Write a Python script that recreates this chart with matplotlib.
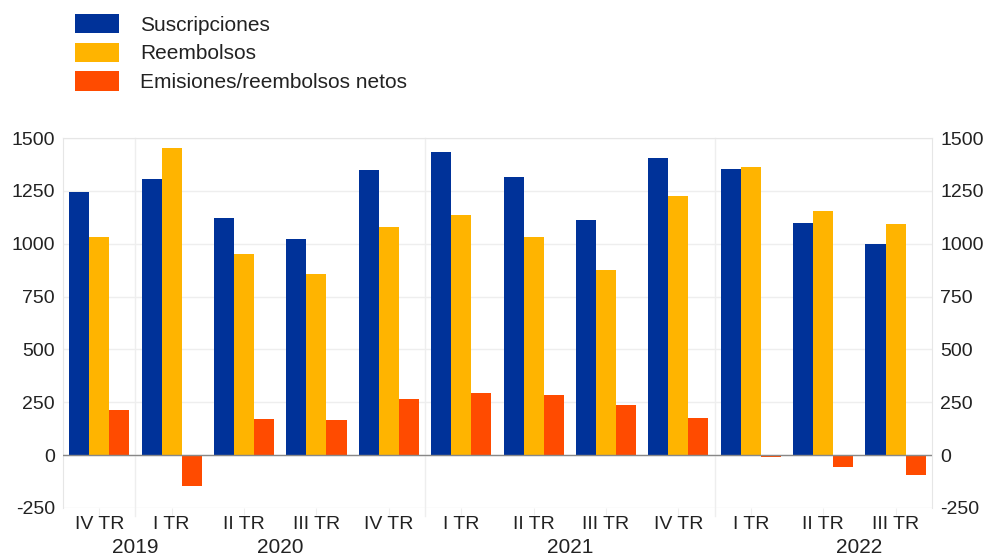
import matplotlib
matplotlib.use("Agg")
import matplotlib.pyplot as plt
import numpy as np
from matplotlib.patches import Patch

quarters = ["IV TR", "I TR", "II TR", "III TR", "IV TR", "I TR", "II TR", "III TR", "IV TR", "I TR", "II TR", "III TR"]
years = ["2019", "2020", "2021", "2022"]
year_pos = [0.5, 2.5, 6.5, 10.5]
year_breaks = [0.5, 4.5, 8.5]

suscripciones = [1245, 1306, 1122, 1022, 1349, 1434, 1316, 1112, 1406, 1354, 1098, 999]
reembolsos = [1032, 1453, 951, 857, 1079, 1136, 1032, 876, 1226, 1363, 1155, 1093]
netos = [213, -147, 170, 166, 265, 293, 284, 237, 175, -9, -57, -94]

series_names = ["Suscripciones", "Reembolsos", "Emisiones/reembolsos netos"]
colors = ["#003299", "#FFB400", "#FF4B00"]

plt.rcParams['font.family'] = ['Liberation Sans', 'DejaVu Sans']

fig = plt.figure(figsize=(9.86, 5.57), dpi=100)
ax = fig.add_axes([0.064, 0.088, 0.881, 0.664])

x = np.arange(len(quarters))
w = 0.277
for i, (vals, c) in enumerate(zip([suscripciones, reembolsos, netos], colors)):
    ax.bar(x + (i - 1) * w, vals, width=w, color=c, zorder=3)

ax.set_xlim(-0.5, len(quarters) - 0.5)
ax.set_ylim(-250, 1500)
ticks = [-250, 0, 250, 500, 750, 1000, 1250, 1500]
ax.set_yticks(ticks)
ax.set_yticklabels([str(t) for t in ticks], fontsize=14, color="#222222")
ax.tick_params(axis='y', length=0, pad=6, labelright=True, right=False)
ax.yaxis.grid(True, color="#eeeeee", linewidth=1, zorder=0)
ax.axhline(0, color="#888888", linewidth=1, zorder=4)

ax.set_xticks(x)
ax.set_xticklabels(quarters, fontsize=14, color="#222222")
ax.tick_params(axis='x', length=5, color="#eeeeee", pad=1)

for s in ["bottom"]:
    ax.spines[s].set_visible(False)
for s in ["left", "right", "top"]:
    ax.spines[s].set_color("#e6e6e6")

for b in year_breaks:
    ax.plot([b, b], [-290, 1500], color="#eeeeee", linewidth=1, zorder=1, clip_on=False)

for yr, p in zip(years, year_pos):
    ax.text(p, -0.106, yr, transform=ax.get_xaxis_transform(), ha="center", va="center",
            fontsize=15, color="#222222")

handles = [Patch(facecolor=c, edgecolor="none") for c in colors]
fig.legend(handles, series_names, loc="upper left", bbox_to_anchor=(0.068, 0.99),
           frameon=False, fontsize=15, handlelength=2.1, handleheight=1.05,
           labelspacing=0.38, handletextpad=1.0, borderaxespad=0, labelcolor="#222222")

fig.savefig("out.png", dpi=100, facecolor="white")
